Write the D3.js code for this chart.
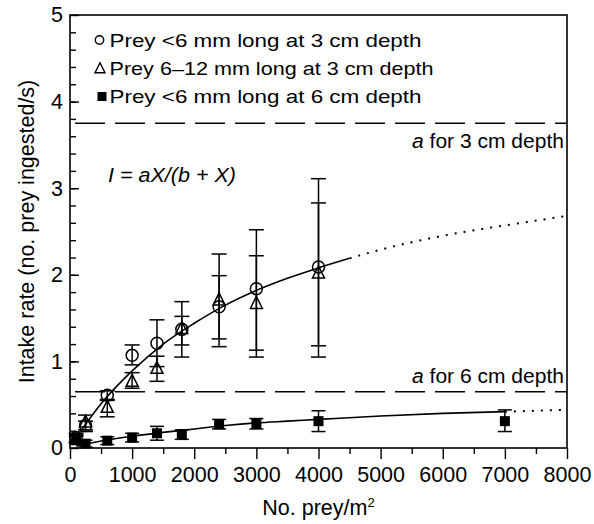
<!DOCTYPE html>
<html>
<head>
<meta charset="utf-8">
<script src="https://cdn.jsdelivr.net/npm/d3@7"></script>
<style>
  body { margin: 0; background: #fff; }
  svg { display: block; font-family: "Liberation Sans", Arial, sans-serif; }
</style>
</head>
<body>
<script>
// densities (prey per m2) and intake rates
const density3 = [100, 250, 600, 1000, 1400, 1800, 2400, 3000, 4000];
const small3 = [0.12, 0.26, 0.61, 1.07, 1.21, 1.37, 1.63, 1.84, 2.09];
const small3Lo = [0.07, 0.21, 0.55, 0.96, 0.94, 1.05, 1.26, 1.13, 1.05];
const small3Hi = [0.17, 0.31, 0.66, 1.19, 1.48, 1.69, 1.99, 2.52, 3.11];

const large3 = [0.10, 0.30, 0.47, 0.77, 0.92, 1.38, 1.71, 1.67, 2.02];
const large3Lo = [0.06, 0.19, 0.36, 0.69, 0.77, 1.19, 1.17, 1.05, 1.18];
const large3Hi = [0.14, 0.38, 0.56, 0.87, 1.06, 1.52, 2.24, 2.22, 2.83];

const density6 = [100, 250, 600, 1000, 1400, 1800, 2400, 3000, 4000, 7000];
const small6 = [0.11, 0.05, 0.085, 0.12, 0.17, 0.155, 0.275, 0.28, 0.31, 0.31];
const small6Lo = [0.06, 0.01, 0.04, 0.07, 0.09, 0.10, 0.22, 0.22, 0.19, 0.19];
const small6Hi = [0.16, 0.09, 0.13, 0.17, 0.25, 0.21, 0.33, 0.34, 0.43, 0.44];

// fitted curves
const fit3X = [100, 500, 1000, 1500, 2000, 2500, 3000, 3500, 4000, 4500];
const fit3Y = [0.12, 0.51, 0.89, 1.20, 1.44, 1.65, 1.82, 1.96, 2.08, 2.19];
const fit3DotX = [4500, 5000, 6000, 7000, 8000];
const fit3DotY = [2.19, 2.29, 2.45, 2.57, 2.68];

const fit6X = [100, 500, 1000, 1500, 2000, 2500, 3000, 3500, 4000, 5000, 6000, 7000];
const fit6Y = [0.02, 0.08, 0.135, 0.18, 0.22, 0.26, 0.29, 0.31, 0.33, 0.37, 0.40, 0.42];
const fit6DotX = [7000, 8000];
const fit6DotY = [0.42, 0.44];

const asymptotes = [3.75, 0.65];
const asymptoteLabels = ["3 cm depth", "6 cm depth"];

const xTicks = [0, 1000, 2000, 3000, 4000, 5000, 6000, 7000, 8000];
const yTicks = [0, 1, 2, 3, 4, 5];

const legendLabels = [
  "Prey <6 mm long at 3 cm depth",
  "Prey 6\u201312 mm long at 3 cm depth",
  "Prey <6 mm long at 6 cm depth"
];

const width = 594, height = 524;
const margin = { top: 15, right: 27, bottom: 76, left: 70 };

const svg = d3.select("body").append("svg")
  .attr("width", width)
  .attr("height", height);

const x = d3.scaleLinear().domain([0, 8000]).range([margin.left, width - margin.right]);
const y = d3.scaleLinear().domain([0, 5]).range([height - margin.bottom, margin.top]);

// stretch text horizontally, the original lettering is wide
function widen(sel, w) {
  sel.attr("textLength", w).attr("lengthAdjust", "spacingAndGlyphs");
}

// minor + major ticks
svg.append("g")
  .attr("transform", `translate(${margin.left},0)`)
  .call(d3.axisLeft(y).tickValues(d3.range(0.2, 5, 0.2)).tickSize(-6).tickFormat(""))
  .call(g => g.select(".domain").remove());

const yAxisG = svg.append("g")
  .attr("transform", `translate(${margin.left},0)`)
  .call(d3.axisLeft(y).tickValues(yTicks).tickSize(-9).tickPadding(7).tickFormat(d3.format("d")));
yAxisG.select(".domain").remove();

svg.append("g")
  .attr("transform", `translate(0,${y(0)})`)
  .call(d3.axisBottom(x).tickValues(d3.range(500, 8000, 1000)).tickSize(6).tickFormat(""))
  .call(g => g.select(".domain").remove());

const xAxisG = svg.append("g")
  .attr("transform", `translate(0,${y(0)})`)
  .call(d3.axisBottom(x).tickValues(xTicks).tickSize(11).tickPadding(8).tickFormat(d3.format("d")));
xAxisG.select(".domain").remove();

svg.selectAll(".tick line").attr("stroke", "#000").attr("stroke-width", 1.4);
svg.selectAll(".tick text")
  .attr("fill", "#000")
  .attr("font-size", 21.5)
  .attr("font-family", "Liberation Sans, Arial, sans-serif");

// frame
svg.append("rect")
  .attr("x", x(0)).attr("y", y(5))
  .attr("width", x(8000) - x(0))
  .attr("height", y(0) - y(5))
  .attr("fill", "none")
  .attr("stroke", "#000")
  .attr("stroke-width", 1.6);

// asymptotes a
svg.selectAll(".asym")
  .data(asymptotes)
  .join("line")
  .attr("class", "asym")
  .attr("x1", x(0)).attr("x2", x(8000))
  .attr("y1", d => y(d)).attr("y2", d => y(d))
  .attr("stroke", "#000")
  .attr("stroke-width", 1.4)
  .attr("stroke-dasharray", "30,10")
  .attr("stroke-dashoffset", 35);

const asymLabelDy = [24.5, -8.5];
asymptotes.forEach((a, i) => {
  const t = svg.append("text")
    .attr("x", x(8000) - 3 - 152)
    .attr("y", y(a) + asymLabelDy[i])
    .attr("font-size", 19.5);
  t.append("tspan").attr("font-style", "italic").text("a");
  t.append("tspan").text(" for " + asymptoteLabels[i]);
  widen(t, 152);
});

// formula
const formula = svg.append("text")
  .attr("x", 108).attr("y", 182)
  .attr("font-size", 20.5)
  .attr("font-style", "italic")
  .text("I = aX/(b + X)");
widen(formula, 128);

// fitted curves
const line = d3.line().x(d => x(d[0])).y(d => y(d[1])).curve(d3.curveMonotoneX);

function drawCurve(xs, ys, dash) {
  svg.append("path")
    .datum(d3.zip(xs, ys))
    .attr("d", line)
    .attr("fill", "none")
    .attr("stroke", "#000")
    .attr("stroke-width", dash ? 2 : 1.6)
    .attr("stroke-dasharray", dash ? "2,7" : null);
}
drawCurve(fit3X, fit3Y, false);
drawCurve(fit3DotX, fit3DotY, true);
drawCurve(fit6X, fit6Y, false);
drawCurve(fit6DotX, fit6DotY, true);

// error bars
function errorBars(xs, lo, hi, cap) {
  const g = svg.append("g").attr("stroke", "#000").attr("stroke-width", 1.5);
  xs.forEach((xv, i) => {
    g.append("line").attr("x1", x(xv)).attr("x2", x(xv)).attr("y1", y(lo[i])).attr("y2", y(hi[i]));
    g.append("line").attr("x1", x(xv) - cap).attr("x2", x(xv) + cap).attr("y1", y(lo[i])).attr("y2", y(lo[i]));
    g.append("line").attr("x1", x(xv) - cap).attr("x2", x(xv) + cap).attr("y1", y(hi[i])).attr("y2", y(hi[i]));
  });
}
errorBars(density3, small3Lo, small3Hi, 7.5);
errorBars(density3, large3Lo, large3Hi, 7.5);
errorBars(density6, small6Lo, small6Hi, 7);

const tri = (cx, cy, s) =>
  `M${cx},${cy - s * 0.58}L${cx - s / 2},${cy + s * 0.42}L${cx + s / 2},${cy + s * 0.42}Z`;

// markers
svg.selectAll(".circ")
  .data(d3.zip(density3, small3))
  .join("circle")
  .attr("class", "circ")
  .attr("cx", d => x(d[0])).attr("cy", d => y(d[1]))
  .attr("r", 6)
  .attr("fill", "none").attr("stroke", "#000").attr("stroke-width", 1.5);

svg.selectAll(".tri")
  .data(d3.zip(density3, large3))
  .join("path")
  .attr("class", "tri")
  .attr("d", d => tri(x(d[0]), y(d[1]), 12))
  .attr("fill", "none").attr("stroke", "#000").attr("stroke-width", 1.5);

svg.selectAll(".sq")
  .data(d3.zip(density6, small6))
  .join("rect")
  .attr("class", "sq")
  .attr("x", d => x(d[0]) - 5).attr("y", d => y(d[1]) - 5)
  .attr("width", 10).attr("height", 10)
  .attr("fill", "#000");

// legend
const legend = svg.append("g");
const legY = [40, 68, 96.5];
legend.append("circle").attr("cx", 99.5).attr("cy", legY[0]).attr("r", 4.2)
  .attr("fill", "none").attr("stroke", "#000").attr("stroke-width", 1.4);
legend.append("path").attr("d", tri(100, legY[1] + 0.5, 10))
  .attr("fill", "none").attr("stroke", "#000").attr("stroke-width", 1.4);
legend.append("rect").attr("x", 97.5).attr("y", legY[2] - 4.5).attr("width", 9).attr("height", 9)
  .attr("fill", "#000");

const legWidths = [312, 324, 312];
legendLabels.forEach((lab, i) => {
  const t = legend.append("text")
    .attr("x", 109.5).attr("y", legY[i] + 6.8)
    .attr("font-size", 19)
    .text(lab);
  widen(t, legWidths[i]);
});

// axis titles
const xt = svg.append("text")
  .attr("x", (x(0) + x(8000)) / 2).attr("y", 515)
  .attr("text-anchor", "middle")
  .attr("font-size", 21.5);
xt.append("tspan").text("No. prey/m");
xt.append("tspan").attr("font-size", 13).attr("dy", -8).text("2");

svg.append("text")
  .attr("transform", `translate(34,${(y(0) + y(5)) / 2}) rotate(-90)`)
  .attr("text-anchor", "middle")
  .attr("font-size", 21.5)
  .text("Intake rate (no. prey ingested/s)");
</script>
</body>
</html>
